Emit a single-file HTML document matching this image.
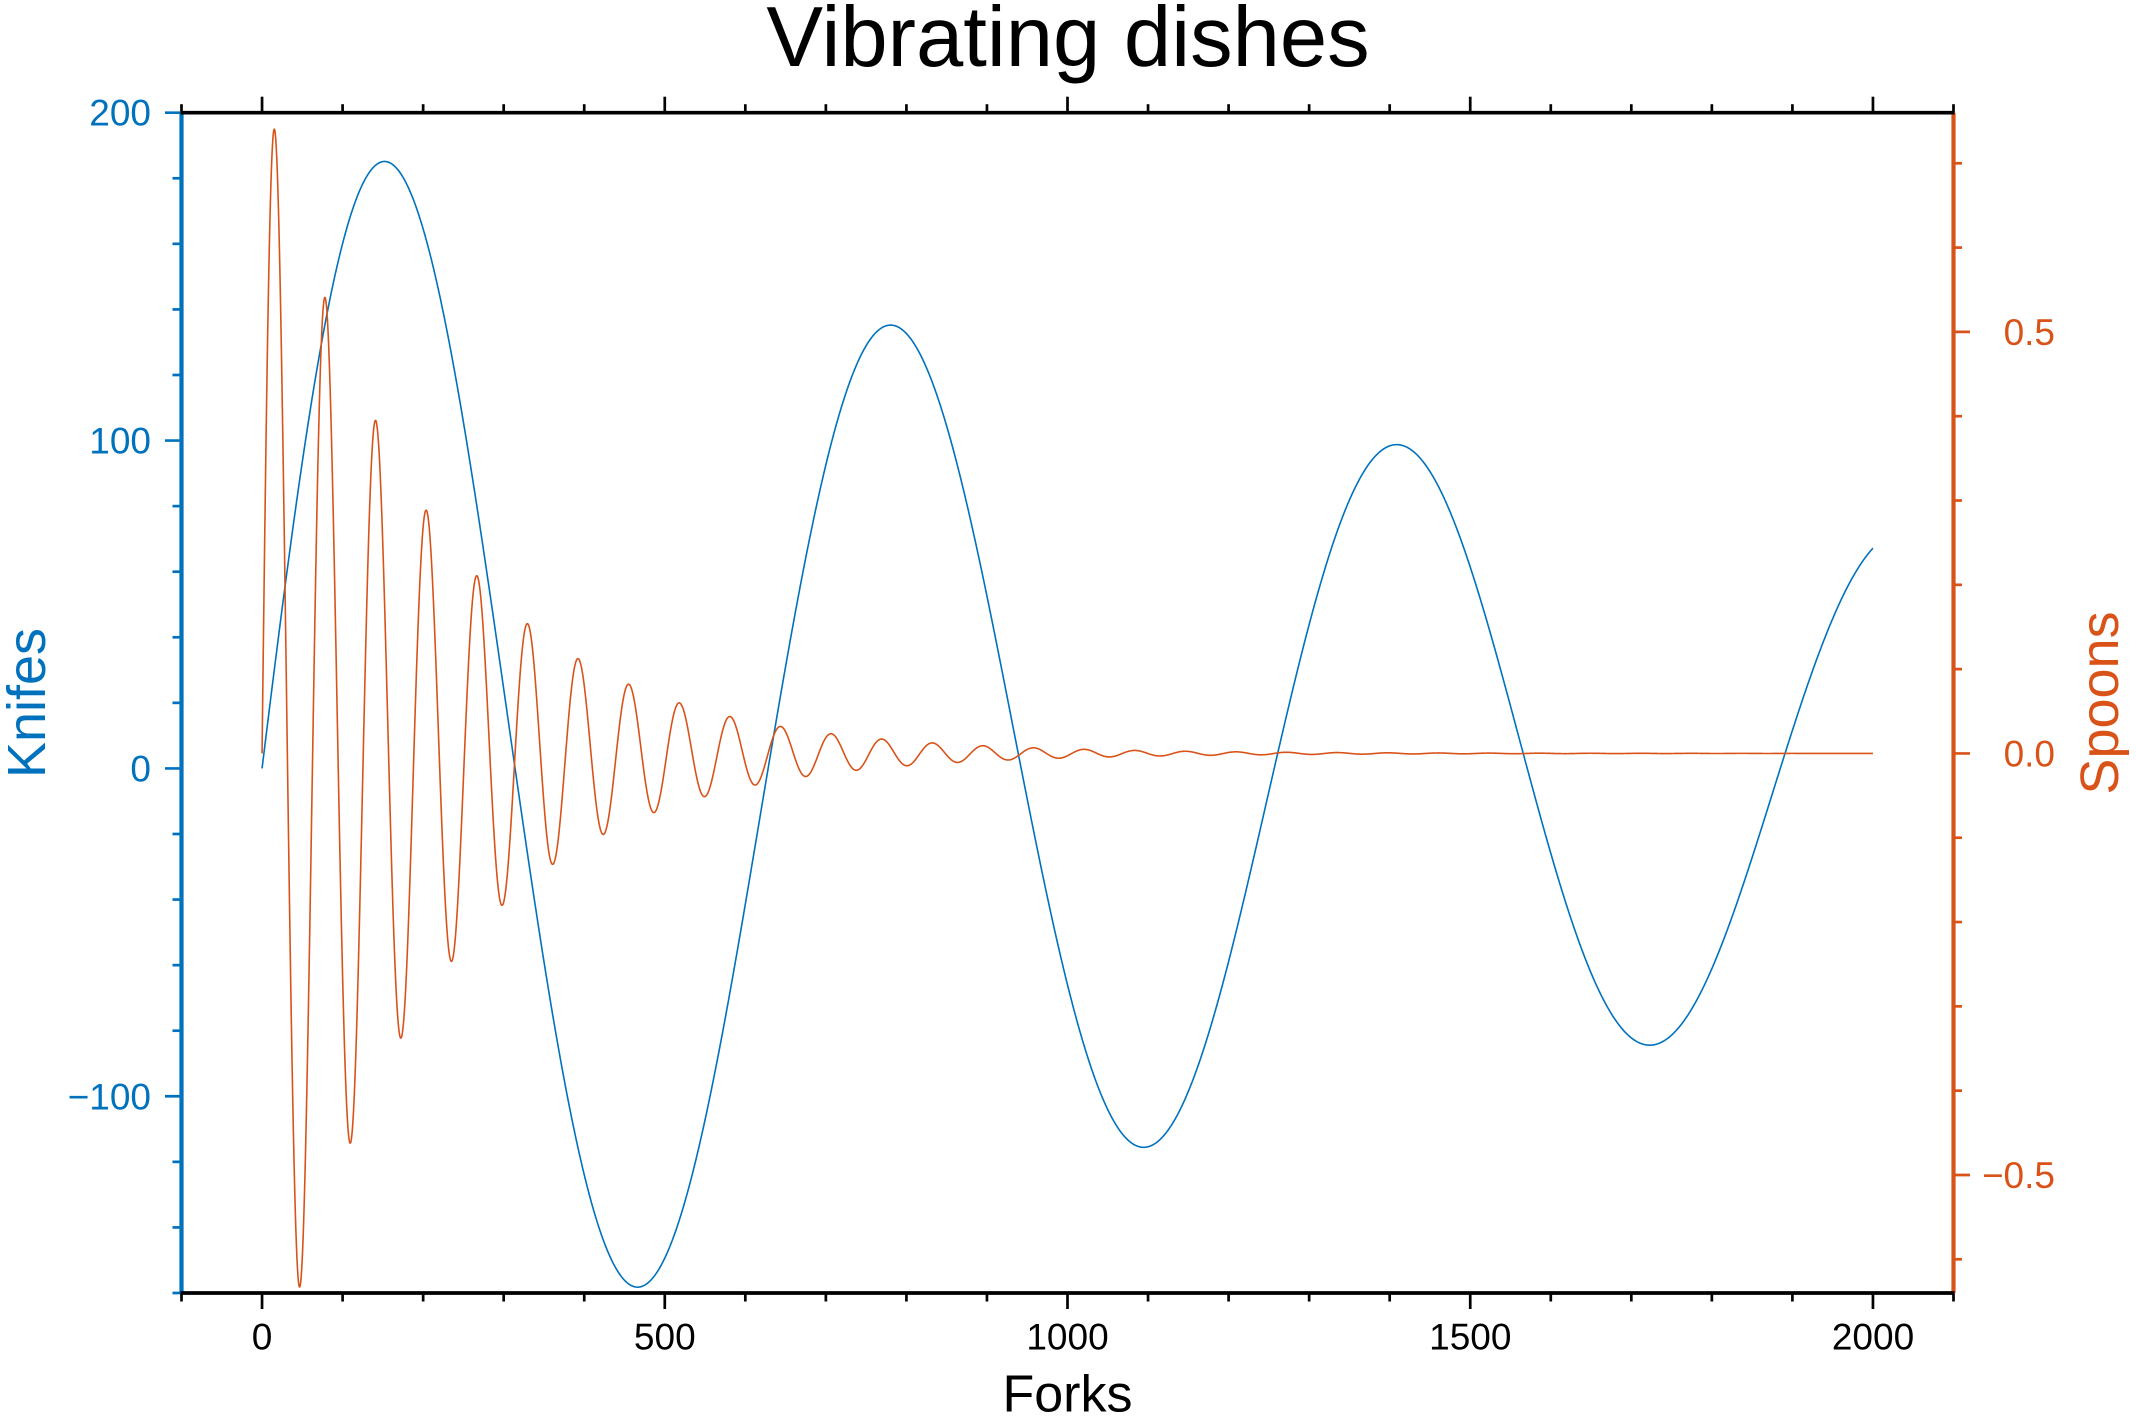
<!DOCTYPE html>
<html>
<head>
<meta charset="utf-8">
<style>
html,body{margin:0;padding:0;background:#fff;}
svg{display:block;}
text{font-family:"Liberation Sans",Arial,sans-serif;}
</style>
</head>
<body>
<svg id="s" xmlns="http://www.w3.org/2000/svg" width="2136" height="1417" viewBox="0 0 2136 1417">
<rect x="0" y="0" width="2136" height="1417" fill="#fff"/>
<g id="curves"></g>
<g id="axes"></g>
<text x="1068" y="66" font-size="85" text-anchor="middle" fill="#000">Vibrating dishes</text>
<g font-size="37" fill="#000" text-anchor="middle">
<text x="262.05" y="1349.5">0</text>
<text x="664.8" y="1349.5">500</text>
<text x="1067.5" y="1349.5">1000</text>
<text x="1470.3" y="1349.5">1500</text>
<text x="1873" y="1349.5">2000</text>
</g>
<g font-size="37" fill="#0072BD" text-anchor="end">
<text x="151" y="125.7">200</text>
<text x="151" y="453.6">100</text>
<text x="151" y="781.4">0</text>
<text x="151" y="1109.3">−100</text>
</g>
<g font-size="37" fill="#D95319" text-anchor="end">
<text x="2055" y="344.9">0.5</text>
<text x="2055" y="766.4">0.0</text>
<text x="2055" y="1188">−0.5</text>
</g>
<text x="1067.5" y="1411.7" font-size="52" text-anchor="middle" fill="#000">Forks</text>
<text transform="translate(45,703) rotate(-90)" font-size="54" text-anchor="middle" fill="#0072BD">Knifes</text>
<text transform="translate(2118,703) rotate(-90)" font-size="54" text-anchor="middle" fill="#D95319">Spoons</text>
</svg>
<script>
(function(){
var NS='http://www.w3.org/2000/svg';
var X=function(x){return 181.5+(x+100)*1772/2200;};
var YL=function(v){return 112.7+(200-v)*1180.3/360;};
var YR=function(v){return 112.7+(0.76-v)*1180.3/1.4;};
var BLUE='#0072BD', ORANGE='#D95319';
var curves=document.getElementById('curves');
var axes=document.getElementById('axes');
function el(parent,name,attrs){var e=document.createElementNS(NS,name);for(var k in attrs)e.setAttribute(k,attrs[k]);parent.appendChild(e);return e;}
function line(p,x1,y1,x2,y2,c,w){el(p,'line',{x1:x1,y1:y1,x2:x2,y2:y2,stroke:c,'stroke-width':w});}
// blue curve
var d='';
for(var x=0;x<=2000;x+=1){
  var v=200*Math.exp(-x/2000)*Math.sin(x/100);
  d+=(x===0?'M':'L')+X(x).toFixed(2)+' '+YL(v).toFixed(2);
}
el(curves,'path',{d:d,fill:'none',stroke:BLUE,'stroke-width':1.6,'stroke-linejoin':'round'});
// orange curve
d='';
for(var i=0;i<=8000;i++){
  var x2=i*0.25;
  var v2=0.8*Math.exp(-x2/200)*Math.sin(x2/10);
  d+=(i===0?'M':'L')+X(x2).toFixed(2)+' '+YR(v2).toFixed(2);
}
el(curves,'path',{d:d,fill:'none',stroke:ORANGE,'stroke-width':1.6,'stroke-linejoin':'round'});
var top=112.7, bot=1293, L=181.5, R=1953.5;
var tw=2.7;
// x ticks
for(var k=-100;k<=2100;k+=100){
  var xx=X(k); var major=(k%500===0);
  var len=major?16:8.5;
  line(axes,xx,bot,xx,bot+len,'#000',tw);
  line(axes,xx,top,xx,top-len,'#000',tw);
}
// left ticks
for(var v=-160;v<=200;v+=20){
  var yy=YL(v); var maj=(v%100===0);
  line(axes,L,yy,L-(maj?16.5:9),yy,BLUE,tw);
}
// right ticks
for(var j=-6;j<=7;j++){
  var yv=YR(j/10); var mj=(j%5===0);
  line(axes,R,yv,R+(mj?16.5:8.5),yv,ORANGE,tw);
}
// frame
line(axes,L,top,L,bot,BLUE,4.2);
line(axes,R,top,R,bot,ORANGE,4.2);
line(axes,L-1,top,R+1,top,'#000',3.7);
line(axes,L-1,bot,R+1,bot,'#000',3.7);
})();
</script>
</body>
</html>
